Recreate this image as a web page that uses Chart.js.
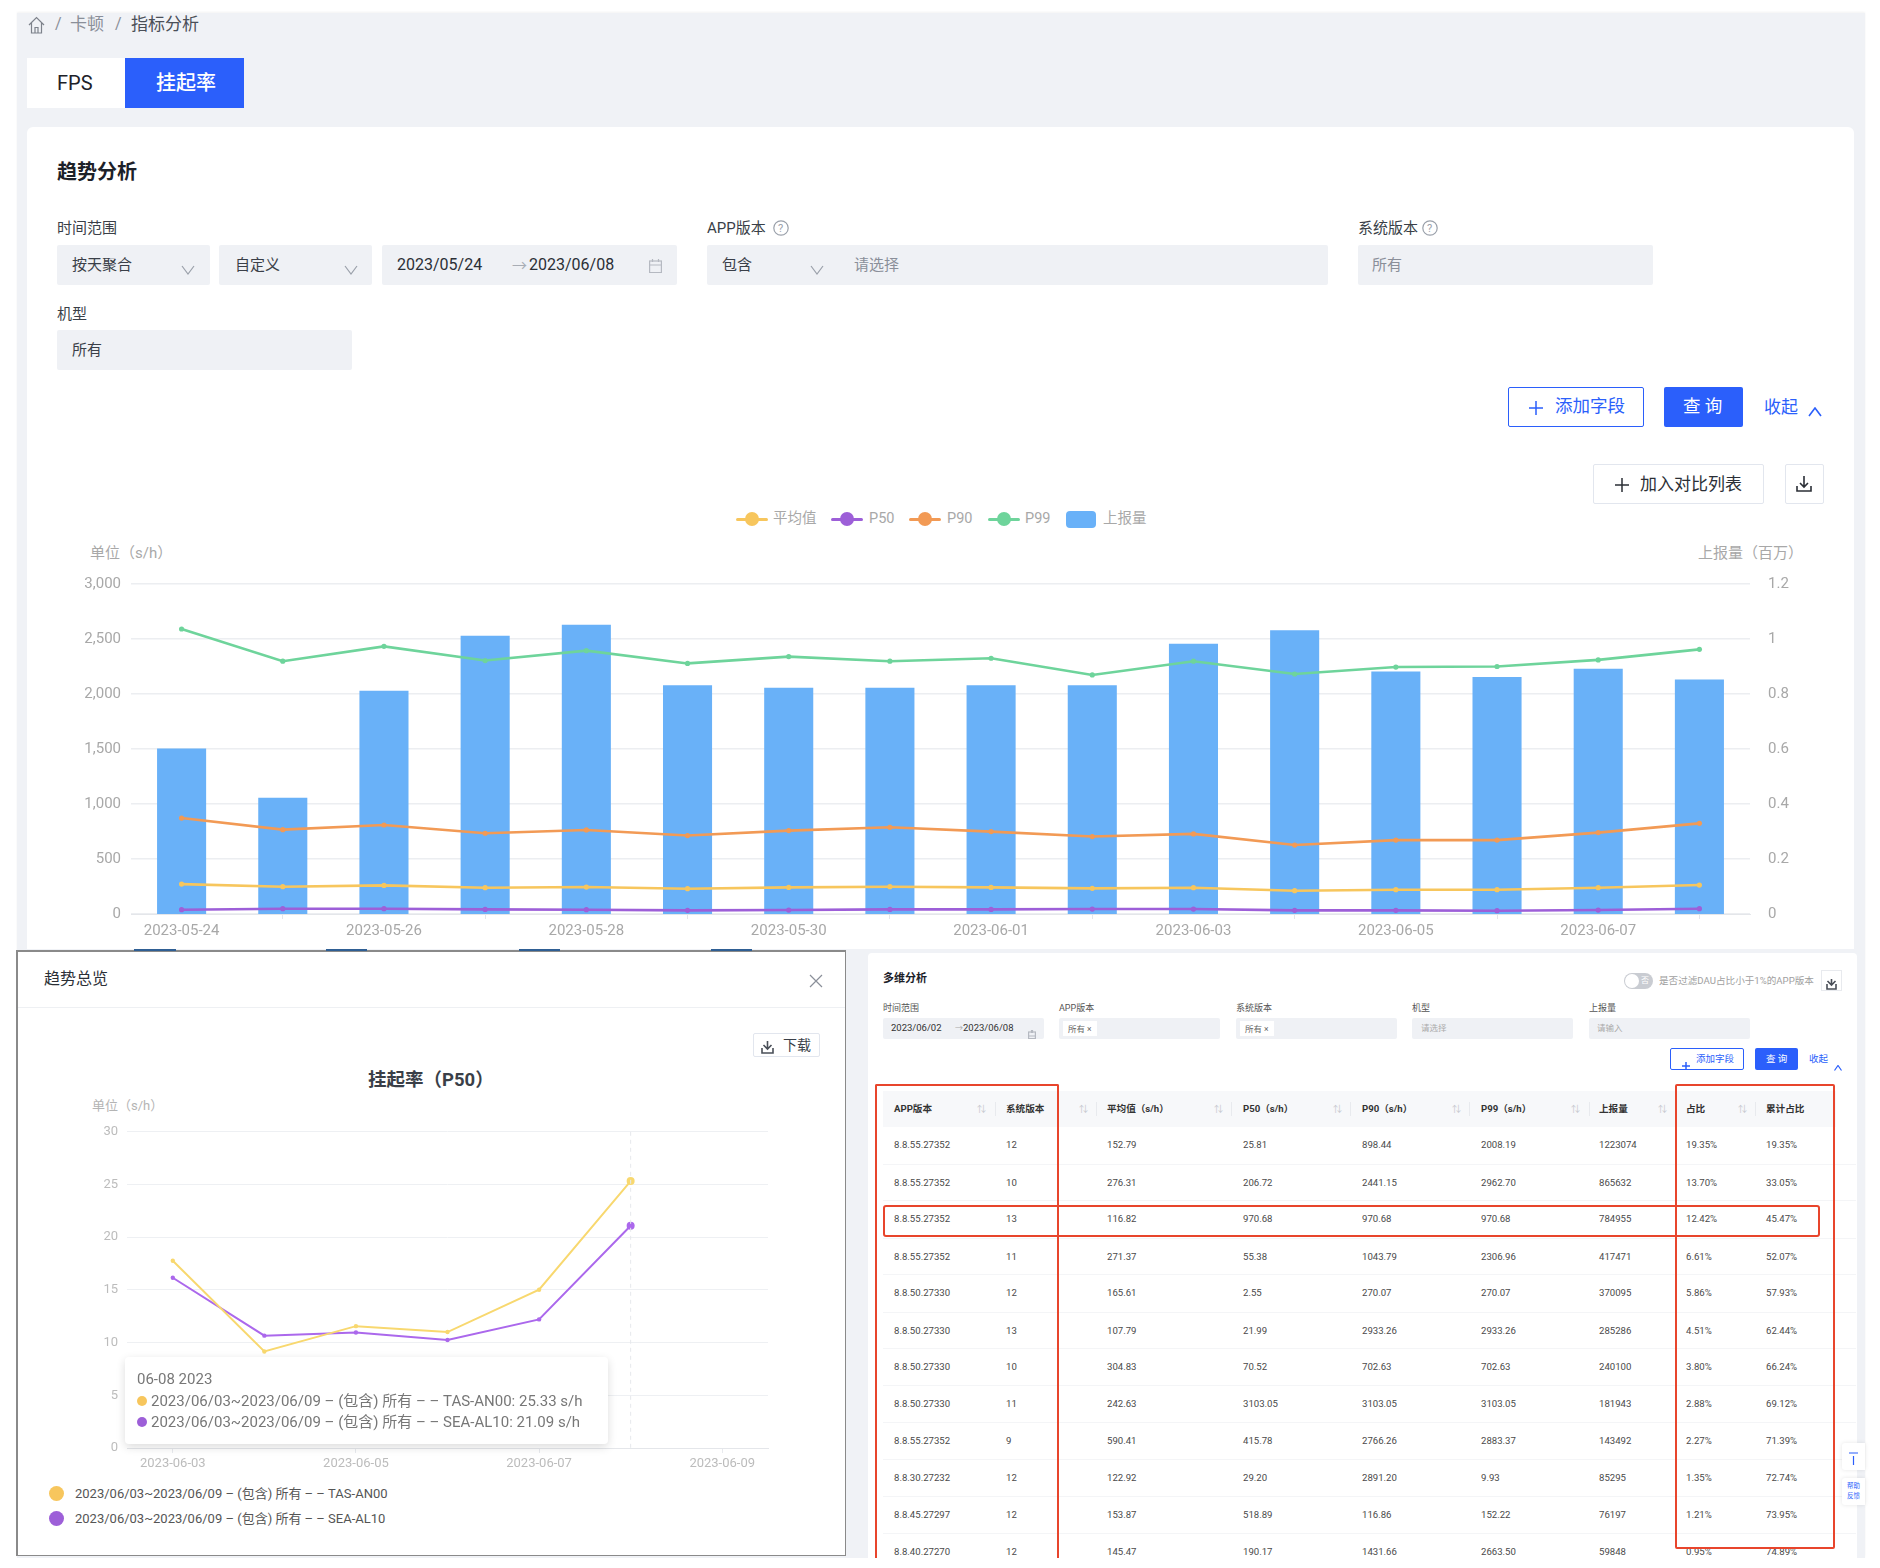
<!DOCTYPE html>
<html lang="zh-CN">
<head>
<meta charset="utf-8">
<title>挂起率</title>
<script src="https://cdn.jsdelivr.net/npm/chart.js@4/dist/chart.umd.min.js"></script>
<style>
  html, body { margin: 0; background: #fff; }
  #page { position: relative; width: 1880px; height: 1568px; overflow: hidden; font-family: Roboto, "Noto Sans CJK SC", sans-serif; color: #2b2f36; }
  #page > * { position: absolute; box-sizing: border-box; }
  .t { white-space: nowrap; transform: translateY(-50%); line-height: 1; }
  .field { background: #eff1f5; border-radius: 2px; }
  canvas { display: block; }
</style>
</head>
<body>
<div id="page"></div>
<script>
// main chart
const dates = ["2023-05-24","2023-05-25","2023-05-26","2023-05-27","2023-05-28","2023-05-29","2023-05-30","2023-05-31","2023-06-01","2023-06-02","2023-06-03","2023-06-04","2023-06-05","2023-06-06","2023-06-07","2023-06-08"];
const avgValues = [272,248,260,239,245,230,242,248,242,233,239,212,221,221,239,263];
const p50Values = [39,48,48,42,39,33,36,42,42,45,45,33,33,30,36,48];
const p90Values = [872,767,809,734,764,713,758,788,749,704,728,627,672,672,740,824];
const p99Values = [2591,2298,2433,2304,2394,2278,2340,2298,2325,2173,2298,2182,2245,2250,2310,2406];
const reportValues = [0.602,0.423,0.812,1.012,1.052,0.832,0.823,0.823,0.832,0.832,0.983,1.032,0.882,0.862,0.892,0.853];

// modal chart
const modalDates = ["2023-06-03","2023-06-04","2023-06-05","2023-06-06","2023-06-07","2023-06-08","2023-06-09"];
const tasValues = [17.76,9.16,11.56,11.0,15.02,25.33,null];
const seaValues = [16.15,10.66,10.96,10.25,12.2,21.09,null];
const tasName = "2023/06/03~2023/06/09 – (包含) 所有 – – TAS-AN00";
const seaName = "2023/06/03~2023/06/09 – (包含) 所有 – – SEA-AL10";

// table columns
const tableHeads = ["APP版本","系统版本","平均值（s/h）","P50（s/h）","P90（s/h）","P99（s/h）","上报量","占比","累计占比"];
const colApp = ["8.8.55.27352","8.8.55.27352","8.8.55.27352","8.8.55.27352","8.8.50.27330","8.8.50.27330","8.8.50.27330","8.8.50.27330","8.8.55.27352","8.8.30.27232","8.8.45.27297","8.8.40.27270"];
const colSys = ["12","10","13","11","12","13","10","11","9","12","12","12"];
const colAvg = ["152.79","276.31","116.82","271.37","165.61","107.79","304.83","242.63","590.41","122.92","153.87","145.47"];
const colP50 = ["25.81","206.72","970.68","55.38","2.55","21.99","70.52","3103.05","415.78","29.20","518.89","190.17"];
const colP90 = ["898.44","2441.15","970.68","1043.79","270.07","2933.26","702.63","3103.05","2766.26","2891.20","116.86","1431.66"];
const colP99 = ["2008.19","2962.70","970.68","2306.96","270.07","2933.26","702.63","3103.05","2883.37","9.93","152.22","2663.50"];
const colReport = ["1223074","865632","784955","417471","370095","285286","240100","181943","143492","85295","76197","59848"];
const colShare = ["19.35%","13.70%","12.42%","6.61%","5.86%","4.51%","3.80%","2.88%","2.27%","1.35%","1.21%","0.95%"];
const colTotal = ["19.35%","33.05%","45.47%","52.07%","57.93%","62.44%","66.24%","69.12%","71.39%","72.74%","73.95%","74.89%"];

const YELLOW = "#f7c65d", PURPLE = "#9d5fd8", ORANGE = "#f29a55", GREEN = "#6ed49b", BLUE = "#69b1f8", PRIMARY = "#2b5ffb", RED = "#e8452c";

const page = document.getElementById("page");

function box(x, y, w, h, css=""){
  const d = document.createElement("div");
  d.style.cssText = `left:${x}px;top:${y}px;width:${w}px;height:${h}px;${css}`;
  page.appendChild(d);
  return d;
}

function txt(str, x, y, size, color="#2b2f36", css=""){
  const d = document.createElement("div");
  d.className = "t";
  d.textContent = str;
  d.style.cssText = `left:${x}px;top:${y}px;font-size:${size}px;color:${color};${css}`;
  page.appendChild(d);
  return d;
}

function icon(x, y, w, h, inner, color="#8a8f99", sw=1.2){
  const d = document.createElement("div");
  d.style.cssText = `left:${x}px;top:${y}px;width:${w}px;height:${h}px`;
  d.innerHTML = `<svg width="${w}" height="${h}" viewBox="0 0 ${w} ${h}" fill="none" stroke="${color}" stroke-width="${sw}">${inner}</svg>`;
  page.appendChild(d);
}

const chevron = (cx, cy, color="#9aa0aa") => icon(cx-7, cy-5, 14, 10, `<polyline points="1,1 7,9 13,1"/>`, color);
const chevronUp = (cx, cy, color=PRIMARY) => icon(cx-7, cy-5, 14, 10, `<polyline points="1,9 7,1 13,9"/>`, color, 1.6);
const plus = (cx, cy, color, s=14) => icon(cx-s/2, cy-s/2, s, s, `<path d="M${s/2} 0V${s}M0 ${s/2}H${s}"/>`, color, 1.5);
const help = (cx, cy) => { icon(cx-8, cy-8, 16, 16, `<circle cx="8" cy="8" r="7.2"/>`, "#9aa0aa"); txt("?", cx-3, cy, 11, "#9aa0aa"); };
const calendar = (x, y, s=13, color="#b5b9c1") => icon(x, y, s, s+1, `<rect x="0.6" y="2" width="${s-1.2}" height="${s-1.4}"/><path d="M0 6H${s}M3.5 0V3M${s-3.5} 0V3"/>`, color);
const download = (cx, cy, color="#2b2f36", s=16) => icon(cx-s/2, cy-s/2, s, s, `<path d="M${s/2} 0V${s-5}M${s/2-4} ${s-9}L${s/2} ${s-5}L${s/2+4} ${s-9}M1 ${s-6}V${s-1}H${s-1}V${s-6}"/>`, color, 1.6);

function drawFrame(){
  box(17, 13, 1848, 1545, "background:#f0f2f6;box-shadow:0 -1px 2px rgba(0,0,0,.05)");
  icon(28, 16, 17, 18, `<path d="M1 9L8.5 1.5L16 9M3.5 7V17H13.5V7M7 17V11.5H10V17"/>`, "#7d828b");
  txt("/", 55, 24, 16, "#8a8f99");
  txt("卡顿", 70, 24, 17, "#8a8f99");
  txt("/", 115, 24, 16, "#8a8f99");
  txt("指标分析", 131, 24, 17, "#4a4f58");

  box(27, 58, 98, 50, "background:#fff");
  box(125, 58, 119, 50, `background:${PRIMARY}`);
  txt("FPS", 57, 83, 20, "#1d2129");
  txt("挂起率", 156, 83, 20, "#fff", "font-weight:500");

  box(27, 127, 1827, 822, "background:#fff;border-radius:6px 6px 0 0");
  txt("趋势分析", 57, 172, 20, "#1d2129", "font-weight:700");

  txt("时间范围", 57, 228, 15, "#3a3f48");
  box(57, 245, 153, 40, "").className = "field";
  txt("按天聚合", 72, 265, 15, "#3a3f48");
  chevron(188, 265);
  box(219, 245, 153, 40, "").className = "field";
  txt("自定义", 235, 265, 15, "#3a3f48");
  chevron(351, 265);
  box(382, 245, 295, 40, "").className = "field";
  txt("2023/05/24", 397, 265, 16, "#2b2f36");
  txt("→", 512, 266, 15, "#a8adb5");
  txt("2023/06/08", 529, 265, 16, "#2b2f36");
  calendar(649, 258);

  txt("APP版本", 707, 228, 15, "#3a3f48");
  help(781, 228);
  box(707, 245, 621, 40, "").className = "field";
  txt("包含", 722, 265, 15, "#3a3f48");
  chevron(817, 265);
  txt("请选择", 854, 265, 15, "#8a8f99");

  txt("系统版本", 1358, 228, 15, "#3a3f48");
  help(1430, 228);
  box(1358, 245, 295, 40, "").className = "field";
  txt("所有", 1372, 265, 15, "#8a8f99");

  txt("机型", 57, 314, 15, "#3a3f48");
  box(57, 330, 295, 40, "").className = "field";
  txt("所有", 72, 350, 15, "#3a3f48");

  box(1508, 387, 136, 40, `border:1.5px solid ${PRIMARY};border-radius:2px;background:#fff`);
  plus(1536, 407, PRIMARY);
  txt("添加字段", 1555, 407, 17.5, PRIMARY);
  box(1664, 387, 79, 40, `background:${PRIMARY};border-radius:2px`);
  txt("查 询", 1683, 407, 17.5, "#fff");
  txt("收起", 1764, 407, 17, PRIMARY);
  chevronUp(1815, 407);

  box(1593, 464, 171, 40, "border:1.5px solid #e2e6ee;border-radius:2px;background:#fff");
  plus(1622, 484, "#2b2f36");
  txt("加入对比列表", 1640, 484, 17, "#2b2f36");
  box(1785, 464, 39, 40, "border:1.5px solid #e2e6ee;border-radius:2px;background:#fff");
  download(1804, 484);
}

function drawLegend(){
  const items = [
    ["平均值", 736, YELLOW, 773],
    ["P50", 831, PURPLE, 869],
    ["P90", 909, ORANGE, 947],
    ["P99", 988, GREEN, 1025],
  ];
  items.forEach(([name, x, color, tx]) => {
    box(x, 517.5, 32, 3, `background:${color};border-radius:2px`);
    box(x+9, 512, 14, 14, `background:${color};border-radius:50%`);
    txt(name, tx, 519, 14.5, "#a8a8a8");
  });
  box(1066, 511, 30, 17, `background:${BLUE};border-radius:4px`);
  txt("上报量", 1103, 519, 14.5, "#a8a8a8");
  txt("单位（s/h）", 90, 553, 15, "#a8a8a8");
  txt("上报量（百万）", 1698, 553, 15, "#a8a8a8");
}

function addCanvas(x, y, w, h){
  const c = document.createElement("canvas");
  c.width = w;
  c.height = h;
  c.style.cssText = `left:${x}px;top:${y}px;width:${w}px;height:${h}px`;
  page.appendChild(c);
  return c;
}

function lineSet(label, data, color, yAxisID="y"){
  return { type:"line", label, data, yAxisID, order:1, borderColor:color, backgroundColor:color, borderWidth:2.6, pointRadius:2.6, pointBorderWidth:0, tension:0 };
}

function buildMainChart(){
  const ctx = addCanvas(57, 565, 1760, 375);
  return new Chart(ctx, {
    data:{
      labels:dates,
      datasets:[
        lineSet("平均值", avgValues, YELLOW),
        lineSet("P50", p50Values, PURPLE),
        lineSet("P90", p90Values, ORANGE),
        lineSet("P99", p99Values, GREEN),
        { type:"bar", label:"上报量", data:reportValues, yAxisID:"y2", order:2, backgroundColor:BLUE, categoryPercentage:1, barPercentage:0.485 },
      ]
    },
    options:{
      responsive:false, animation:false,
      layout:{padding:{top:5}},
      plugins:{legend:{display:false}, tooltip:{enabled:false}},
      scales:{
        x:{
          offset:true,
          afterFit:s => { s.height = 26; },
          grid:{drawOnChartArea:false, tickLength:5, color:"#e4e6ea"},
          border:{color:"#e4e6ea"},
          ticks:{color:"#a8a8a8", font:{size:15}, maxRotation:0, autoSkip:false, padding:3,
            callback(v, i){ return i % 2 === 0 ? this.getLabelForValue(v) : null; }}
        },
        y:{
          min:0, max:3000,
          afterFit:s => { s.width = 74; },
          grid:{color:"#eceef1", lineWidth:1.5, drawTicks:false},
          border:{display:false},
          ticks:{stepSize:500, color:"#a8a8a8", font:{size:15}, padding:10, callback:v => v.toLocaleString("en-US")}
        },
        y2:{
          position:"right", min:0, max:1.2,
          afterFit:s => { s.width = 67; },
          grid:{display:false},
          border:{display:false},
          ticks:{stepSize:0.2, color:"#a8a8a8", font:{size:15}, padding:10, callback:v => String(+v.toFixed(1))}
        }
      }
    }
  });
}

const hoverLine = {
  id:"hoverLine",
  afterDatasetsDraw(chart){
    const {ctx, chartArea, scales} = chart;
    const x = scales.x.getPixelForValue(5);
    ctx.save();
    ctx.strokeStyle = "#e6e8ec";
    ctx.setLineDash([4, 4]);
    ctx.beginPath();
    ctx.moveTo(x, chartArea.top);
    ctx.lineTo(x, chartArea.bottom);
    ctx.stroke();
    ctx.restore();
  }
};

function buildModalChart(){
  const ctx = addCanvas(60, 1115, 720, 365);
  const set = (label, data, color) => ({
    label, data, borderColor:color, backgroundColor:color, borderWidth:2, tension:0,
    pointRadius:[2.2,2.2,2.2,2.2,2.2,4,0], pointBorderWidth:0
  });
  return new Chart(ctx, {
    type:"line",
    data:{ labels:modalDates, datasets:[ set(tasName, tasValues, "#f8d86f"), set(seaName, seaValues, "#ab68ec") ] },
    plugins:[hoverLine],
    options:{
      responsive:false, animation:false,
      layout:{padding:{top:4, right:12}},
      plugins:{legend:{display:false}, tooltip:{enabled:false}},
      scales:{
        x:{
          offset:true,
          afterFit:s => { s.height = 32; },
          grid:{drawOnChartArea:false, tickLength:5, color:"#e8eaee"},
          border:{color:"#e4e6ea"},
          ticks:{color:"#bcbcbc", font:{size:13}, maxRotation:0, autoSkip:false, padding:3,
            callback(v, i){ return i % 2 === 0 ? this.getLabelForValue(v) : null; }}
        },
        y:{
          min:0, max:30,
          afterFit:s => { s.width = 67; },
          grid:{color:"#eef0f3", drawTicks:false},
          border:{display:false},
          ticks:{stepSize:5, color:"#bcbcbc", font:{size:13}, padding:9}
        }
      }
    }
  });
}

function drawModal(){
  box(16, 950, 830, 606, "background:#fff;border:2px solid #8a8a8a;border-bottom-width:1.5px;border-right-width:1.5px");
  [[134,176],[326,367],[519,560],[711,752]].forEach(([a, b]) => box(a, 949, b-a, 2, "background:#2f5f94"));
  txt("趋势总览", 44, 979, 16, "#2b2f36");
  icon(809, 973, 14, 14, `<path d="M1 1L13 13M13 1L1 13"/>`, "#8a8f99");
  box(18, 1007, 827, 1, "background:#eef0f3");
  box(753, 1033, 67, 24, "border:1px solid #e2e6ee;border-radius:2px;background:#fff");
  download(767, 1045, "#4a4f58", 13);
  txt("下载", 783, 1045, 14, "#3a3f48");
  txt("挂起率（P50）", 368, 1080, 18.5, "#3a3f48", "font-weight:700");
  txt("单位（s/h）", 92, 1105, 13, "#b4b4b4");
}

function drawModalOverlay(){
  box(125, 1357, 483, 87, "background:#fff;border-radius:4px;box-shadow:0 3px 10px rgba(0,0,0,.14)");
  txt("06-08 2023", 137, 1379, 15, "#777");
  box(137, 1396, 10, 10, `background:${YELLOW};border-radius:50%`);
  txt(`${tasName}: ${tasValues[5]} s/h`, 151, 1401, 15, "#777");
  box(137, 1417, 10, 10, `background:${PURPLE};border-radius:50%`);
  txt(`${seaName}: ${seaValues[5]} s/h`, 151, 1422, 15, "#777");

  box(49, 1486, 15, 15, `background:${YELLOW};border-radius:50%`);
  txt(tasName, 75, 1493, 13, "#555");
  box(49, 1511, 15, 15, `background:${PURPLE};border-radius:50%`);
  txt(seaName, 75, 1518, 13, "#555");
}

function drawTable(){
  box(868, 953, 989, 605, "background:#fff;border-radius:4px 4px 0 0");
  txt("多维分析", 883, 978, 11, "#1d2129", "font-weight:700");
  box(1624, 973, 29, 16, "background:#c9ccd2;border-radius:8px");
  box(1625, 974, 14, 14, "background:#fff;border-radius:50%");
  txt("否", 1641, 981, 8, "#fff");
  txt("是否过滤DAU占比小于1%的APP版本", 1659, 981, 9.6, "#a0a0a0");
  box(1821, 970, 21, 21, "border:1px solid #e8eaee;background:#fff");
  download(1831.5, 980.5, "#4a4f58", 11);

  const labels = [["时间范围",883],["APP版本",1059],["系统版本",1236],["机型",1412],["上报量",1589]];
  labels.forEach(([s, x]) => {
    txt(s, x, 1008, 9, "#555");
    box(x, 1018, 161, 21, "").className = "field";
  });
  txt("2023/06/02", 891, 1028, 9.5, "#333");
  txt("→", 955, 1029, 8, "#aaa");
  txt("2023/06/08", 963, 1028, 9.5, "#333");
  calendar(1028, 1024, 8);
  [1063, 1240].forEach(x => {
    box(x, 1021, 34, 15, "background:#fff");
    txt("所有 ×", x+5, 1028.5, 8.5, "#666");
  });
  txt("请选择", 1421, 1028, 8.5, "#aaa");
  txt("请输入", 1597, 1028, 8.5, "#aaa");
  box(1670, 1048, 74, 22, `border:1px solid ${PRIMARY};border-radius:2px;background:#fff`);
  plus(1686, 1059, PRIMARY, 8);
  txt("添加字段", 1696, 1059, 9.5, PRIMARY);
  box(1755, 1048, 43, 22, `background:${PRIMARY};border-radius:2px`);
  txt("查 询", 1766, 1059, 9.5, "#fff");
  txt("收起", 1809, 1059, 9.5, PRIMARY);
  icon(1834, 1056, 8, 6, `<polyline points="0.5,5.5 4,0.5 7.5,5.5"/>`, PRIMARY);

  box(883, 1091, 953, 36, "background:#f7f8fa");
  const colX = [894, 1006, 1107, 1243, 1362, 1481, 1599, 1686, 1766];
  const sortX = [980, 1082, 1217, 1336, 1455, 1574, 1661, 1741];
  const sepX = [995, 1096, 1231, 1350, 1469, 1589, 1675, 1755];
  tableHeads.forEach((h, i) => txt(h, colX[i], 1109, 9.6, "#333", "font-weight:700"));
  sortX.forEach(x => txt("⇅", x-3, 1109, 9, "#c4c7cd"));
  sepX.forEach(x => box(x, 1102, 1, 14, "background:#e8eaee"));

  const columns = [colApp, colSys, colAvg, colP50, colP90, colP99, colReport, colShare, colTotal];
  const rowY = [1145,1183,1219,1257,1293,1331,1367,1404,1441,1478,1515,1552];
  rowY.forEach((y, r) => {
    columns.forEach((col, c) => txt(col[r], colX[c], y, 9.6, "#4a4a4a"));
    if (r > 0) box(883, y-19, 973, 1, "background:#f4f5f7");
  });

  box(1842, 1443, 23, 27, "background:#fff;border-radius:3px 0 0 3px;box-shadow:0 0 4px rgba(0,0,0,.1)");
  icon(1849, 1450, 9, 13, `<path d="M0 1H9M4.5 4V13"/>`, PRIMARY);
  box(1842, 1478, 23, 27, "background:#fff;border-radius:3px 0 0 3px;box-shadow:0 0 4px rgba(0,0,0,.1)");
  txt("帮助", 1847, 1486, 6.5, PRIMARY);
  txt("反馈", 1847, 1496, 6.5, PRIMARY);

  box(875, 1084, 184, 478, `border:2px solid ${RED};border-bottom:0;border-radius:2px 2px 0 0`);
  box(1675, 1084, 160, 465, `border:2px solid ${RED};border-radius:2px`);
  box(883, 1205, 937, 32, `border:2px solid ${RED};border-radius:3px`);
  box(0, 1558, 1880, 10, "background:#fff");
}

function init(){
  Chart.defaults.font.family = 'Roboto, "Noto Sans CJK SC", sans-serif';
  drawFrame();
  drawLegend();
  buildMainChart();
  drawTable();
  drawModal();
  buildModalChart();
  drawModalOverlay();
}

init();
</script>
</body>
</html>
